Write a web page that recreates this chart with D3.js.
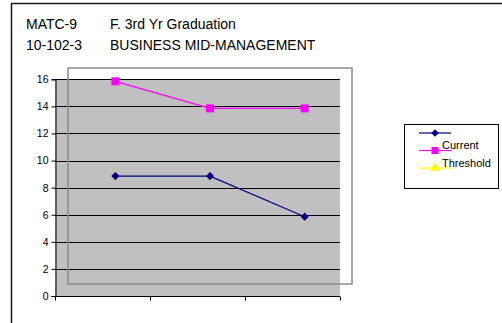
<!DOCTYPE html>
<html>
<head>
<meta charset="utf-8">
<script src="https://cdn.jsdelivr.net/npm/d3@7"></script>
<style>
  html, body { margin: 0; padding: 0; background: #fff; }
  svg { display: block; font-family: "Liberation Sans", Arial, sans-serif; }
</style>
</head>
<body>
<svg id="chart" width="502" height="323"></svg>
<script>
// Chart data
const categories = ["Yr 1", "Yr 2", "Yr 3"];
const currentValues = [9, 9, 6];
const thresholdValues = [16, 14, 14];
const yTicks = [0, 2, 4, 6, 8, 10, 12, 14, 16];
const titleCodes = ["MATC-9", "10-102-3"];
const titleNames = ["F. 3rd Yr Graduation", "BUSINESS MID-MANAGEMENT"];
const legendLabels = ["Current", "Threshold"];

const svg = d3.select("#chart");

// Outer chart border (extends past the visible page)
svg.append("path")
  .attr("d", "M11.5,340 V3.5 H520")
  .attr("fill", "none").attr("stroke", "#1a1a1a").attr("stroke-width", 1.5);

// Title block
titleCodes.forEach((t, i) => {
  svg.append("text").attr("x", 26).attr("y", 29 + i * 21)
    .attr("font-size", 14).attr("fill", "#000").text(t);
  svg.append("text").attr("x", 110).attr("y", 29 + i * 21)
    .attr("font-size", 14).attr("fill", "#000").text(titleNames[i]);
});

// Axis frame
const axisLeft = 55, axisRight = 340, axisTop = 79.3, axisBottom = 296;
const x = d3.scaleBand().domain(categories).range([axisLeft, axisRight]);
const y = d3.scaleLinear().domain([0, 16]).range([axisBottom, axisTop]);

svg.append("rect")
  .attr("x", axisLeft).attr("y", axisTop)
  .attr("width", axisRight - axisLeft).attr("height", axisBottom - axisTop)
  .attr("fill", "#c0c0c0");

// Gridlines
svg.append("g").selectAll("line").data(yTicks.filter(d => d > 0)).join("line")
  .attr("x1", axisLeft).attr("x2", axisRight)
  .attr("y1", d => Math.round(y(d)) + 0.5).attr("y2", d => Math.round(y(d)) + 0.5)
  .attr("stroke", "#000").attr("stroke-width", 1);

// Plot frame for the series
const frame = { left: 68, right: 352, top: 68, bottom: 284 };
svg.append("rect")
  .attr("x", frame.left).attr("y", frame.top)
  .attr("width", frame.right - frame.left).attr("height", frame.bottom - frame.top)
  .attr("fill", "none").attr("stroke", "#8c8c8c").attr("stroke-width", 1.5);

// Y axis
const yAxis = svg.append("g")
  .attr("transform", `translate(${axisLeft + 0.5},0)`)
  .call(d3.axisLeft(y).tickValues(yTicks).tickSize(4).tickPadding(3).tickFormat(d3.format("d")));
yAxis.select(".domain").attr("stroke", "#000");
yAxis.selectAll(".tick line").attr("stroke", "#000");
yAxis.selectAll("text").attr("font-size", 10.5).attr("fill", "#000")
  .attr("font-family", "Liberation Sans, Arial, sans-serif");

// X axis (category boundaries)
const xAxis = svg.append("g")
  .attr("transform", `translate(0,${axisBottom + 0.5})`)
  .call(d3.axisBottom(x).tickSize(0).tickFormat(""));
xAxis.select(".domain").attr("stroke", "#000").attr("d", `M${axisLeft},0H${axisRight}`);
xAxis.selectAll(".tick").remove();
const bounds = categories.map(c => x(c)).concat([axisRight]);
xAxis.selectAll("line.bound").data(bounds).join("line").attr("class", "bound")
  .attr("x1", d => Math.round(d) + 0.5).attr("x2", d => Math.round(d) + 0.5)
  .attr("y1", 0).attr("y2", 4).attr("stroke", "#000");

// Series scales within the plot frame
const xs = d3.scalePoint().domain(categories).range([frame.left, frame.right]).padding(0.5);
const ys = d3.scaleLinear().domain([0, 16]).range([axisBottom + 2, axisTop + 2]);

const series = [
  { values: thresholdValues, color: "#ff00ff", marker: d3.symbolSquare, size: 64, rot: 0 },
  { values: currentValues, color: "#000080", marker: d3.symbolSquare, size: 34, rot: 45 }
];
const line = d3.line().x((d, i) => xs(categories[i])).y(d => ys(d));
series.forEach(s => {
  svg.append("path").datum(s.values).attr("d", line)
    .attr("fill", "none").attr("stroke", s.color).attr("stroke-width", 1.3);
  svg.append("g").selectAll("path").data(s.values).join("path")
    .attr("transform", (d, i) => `translate(${xs(categories[i])},${ys(d)}) rotate(${s.rot})`)
    .attr("d", d3.symbol(s.marker, s.size)).attr("fill", s.color);
});

// Legend
const lg = { x: 404, y: 124, w: 94, h: 64 };
svg.append("rect").attr("x", lg.x + 0.5).attr("y", lg.y + 0.5)
  .attr("width", lg.w).attr("height", lg.h)
  .attr("fill", "#fff").attr("stroke", "#000").attr("stroke-width", 1);
const legendRows = [
  { color: "#000080", marker: d3.symbolSquare, size: 30, rot: 45 },
  { color: "#ff00ff", marker: d3.symbolSquare, size: 49, rot: 0 },
  { color: "#ffff00", marker: d3.symbolTriangle, size: 42, rot: 0 }
];
legendRows.forEach((r, i) => {
  const ly = 133 + i * 17.5;
  svg.append("line").attr("x1", 419).attr("x2", 451).attr("y1", ly).attr("y2", ly)
    .attr("stroke", r.color).attr("stroke-width", 1.2);
  svg.append("path").attr("transform", `translate(435,${ly}) rotate(${r.rot})`)
    .attr("d", d3.symbol(r.marker, r.size)).attr("fill", r.color);
});
legendLabels.forEach((t, i) => {
  svg.append("text").attr("x", 442).attr("y", 149 + i * 17.5)
    .attr("font-size", 11).attr("fill", "#000").text(t);
});
</script>
</body>
</html>
